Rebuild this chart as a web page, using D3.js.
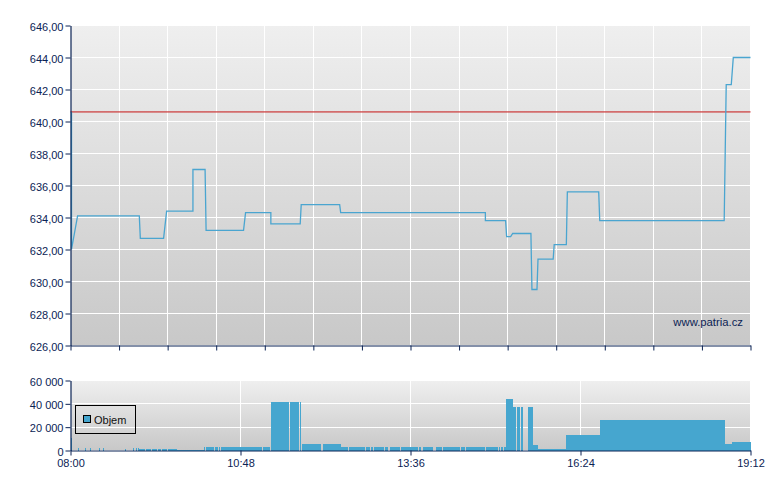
<!DOCTYPE html>
<html><head><meta charset="utf-8">
<script src="https://cdn.jsdelivr.net/npm/d3@7"></script>
<style>
body{margin:0;background:#fff}
svg{display:block;font-family:"Liberation Sans",Arial,sans-serif}
</style>
</head><body>
<svg id="c" width="780" height="490"></svg>
<script>
// ---------- DATA ----------
const priceTimes = ["08:01","08:01","08:07","09:08","09:09","09:32","09:35","10:01","10:01","10:13","10:14","10:51","10:53","11:18","11:18","11:47","11:48","12:26","12:27","14:50","14:50","15:10","15:11","15:15","15:17","15:35","15:36","15:41","15:42","15:57","15:58","16:10","16:11","16:42","16:43","18:46","18:48","18:53","18:55","19:12"];
const priceValues = [640.6,632.0,634.1,634.1,632.7,632.7,634.4,634.4,637.0,637.0,633.2,633.2,634.3,634.3,633.6,633.6,634.8,634.8,634.3,634.3,633.8,633.8,632.8,632.8,633.0,633.0,629.5,629.5,631.4,631.4,632.3,632.3,635.6,635.6,633.8,633.8,642.3,642.3,644.0,644.0];
const previousClose = 640.6;
const priceTicks = [626,628,630,632,634,636,638,640,642,644,646];

const volStart = ["08:00","08:07","08:14","08:19","08:28","08:32","08:54","09:02","09:05","09:07","09:08","09:15","09:21","09:26","09:30","09:36","09:45","10:12","10:14","10:23","10:27","10:29","11:10","11:18","11:37","11:47","11:49","12:10","12:27","12:35","12:52","12:57","13:00","13:11","13:16","13:27","13:44","13:48","14:01","14:08","14:26","14:31","14:51","15:03","15:05","15:08","15:10","15:17","15:21","15:25","15:32","15:37","15:42","16:10","16:43","18:47","18:54"];
const volEnd   = ["08:01","08:08","08:15","08:20","08:29","08:33","08:55","09:03","09:06","09:08","09:14","09:20","09:25","09:29","09:35","09:45","10:12","10:13","10:22","10:26","10:28","11:09","11:17","11:36","11:46","11:48","12:08","12:27","12:34","12:51","12:56","12:59","13:10","13:14","13:26","13:43","13:46","13:58","14:07","14:25","14:30","14:50","15:02","15:04","15:07","15:10","15:17","15:20","15:24","15:27","15:37","15:42","16:10","16:43","18:47","18:54","19:12"];
const volValues = [10500,1800,1800,1800,1800,1800,1500,2000,2000,1800,900,900,900,900,900,900,600,3400,3400,3400,3400,3400,3400,41400,41400,41400,6000,6000,3400,3400,3400,3400,3400,3400,3400,3400,3400,3400,3400,3400,3400,3400,3400,3400,3400,3400,44500,37700,37700,37700,37700,4300,900,13000,26500,5400,7700];
const volTicks = [0,20000,40000,60000];

const timeLabels = ["08:00","10:48","13:36","16:24","19:12"];
const gridStepMinutes = 48;
const legendLabel = "Objem";
const watermark = "www.patria.cz";

// ---------- STYLE ----------
const navy = "#0b2354";
const lineColor = "#4aa5d0";
const barColor = "#46a6cf";

// ---------- SCALES ----------
const parse = d3.timeParse("%H:%M");
const t0 = parse(timeLabels[0]), t1 = parse(timeLabels[timeLabels.length-1]);
const x = d3.scaleTime().domain([t0, t1]).range([70.5, 750.5]);
const y = d3.scaleLinear().domain([626, 646]).range([345.5, 25.5]);
const yv = d3.scaleLinear().domain([0, 60000]).range([450.5, 380.5]);

const loc = d3.formatLocale({decimal:",", thousands:" ", grouping:[3], currency:["",""]});
const fPrice = loc.format(",.2f");
const fVol = loc.format(",d");

const gridTimes = d3.range(0, Math.round((t1 - t0)/60000) + 1, gridStepMinutes).map(m => d3.timeMinute.offset(t0, m));

const svg = d3.select("#c");
const defs = svg.append("defs");
const grad = defs.append("linearGradient").attr("id","bg").attr("x1",0).attr("y1",0).attr("x2",0).attr("y2",1);
grad.append("stop").attr("offset","0%").attr("stop-color","#efefef");
grad.append("stop").attr("offset","100%").attr("stop-color","#c8c8c8");

const px = v => Math.round(v - 0.5) + 0.5;

// ---------- PRICE PANEL ----------
const gTop = svg.append("g");
gTop.append("rect").attr("x", x.range()[0]).attr("y", y.range()[1])
  .attr("width", x.range()[1]-x.range()[0]).attr("height", y.range()[0]-y.range()[1]).attr("fill","url(#bg)");
gTop.append("g").selectAll("line").data(priceTicks).join("line")
  .attr("x1", x.range()[0]).attr("x2", x.range()[1]).attr("y1", d=>px(y(d))).attr("y2", d=>px(y(d)))
  .attr("stroke","#fff").attr("stroke-width",1);
gTop.append("g").selectAll("line").data(gridTimes).join("line")
  .attr("x1", d=>px(x(d))).attr("x2", d=>px(x(d))).attr("y1", y.range()[0]).attr("y2", y.range()[1])
  .attr("stroke","#fff").attr("stroke-width",1);

gTop.append("line").attr("x1", x.range()[0]).attr("x2", x.range()[1])
  .attr("y1", y(previousClose)).attr("y2", y(previousClose))
  .attr("stroke","#cc3b3b").attr("stroke-opacity",0.7).attr("stroke-width",1.6);

const pts = priceTimes.map((t,i)=>({t:parse(t), v:priceValues[i]}));
gTop.append("path").datum(pts)
  .attr("d", d3.line().x(d=>x(d.t)).y(d=>y(d.v)))
  .attr("fill","none").attr("stroke",lineColor).attr("stroke-width",1.3);

gTop.append("text").attr("x",743).attr("y",326).attr("text-anchor","end")
  .attr("font-size",11.3).attr("fill",navy).text(watermark);

const ay = gTop.append("g").attr("transform",`translate(${x.range()[0]},0)`)
  .call(d3.axisLeft(y).tickValues(priceTicks).tickSize(5).tickSizeOuter(0).tickPadding(2).tickFormat(fPrice));
const ax = gTop.append("g").attr("transform",`translate(0,${y.range()[0]})`)
  .call(d3.axisBottom(x).tickValues(gridTimes).tickSize(5).tickSizeOuter(0).tickFormat(""));

// ---------- VOLUME PANEL ----------
const gBot = svg.append("g");
gBot.append("rect").attr("x", x.range()[0]).attr("y", yv.range()[1])
  .attr("width", x.range()[1]-x.range()[0]).attr("height", yv.range()[0]-yv.range()[1]).attr("fill","url(#bg)");
gBot.append("g").selectAll("line").data(volTicks).join("line")
  .attr("x1", x.range()[0]).attr("x2", x.range()[1]).attr("y1", d=>px(yv(d))).attr("y2", d=>px(yv(d)))
  .attr("stroke","#fff").attr("stroke-width",1);
gBot.append("g").selectAll("line").data(timeLabels.map(parse)).join("line")
  .attr("x1", d=>px(x(d))).attr("x2", d=>px(x(d))).attr("y1", yv.range()[0]).attr("y2", yv.range()[1])
  .attr("stroke","#fff").attr("stroke-width",1);

const bars = volStart.map((s,i)=>({s:parse(s), e:parse(volEnd[i]), v:volValues[i]}));
gBot.append("g").selectAll("rect").data(bars).join("rect")
  .attr("x", d=>x(d.s)).attr("width", d=>Math.max(1, x(d.e)-x(d.s)))
  .attr("y", d=>yv(d.v)).attr("height", d=>yv(0)-yv(d.v))
  .attr("fill", barColor).attr("shape-rendering","crispEdges");

const leg = gBot.append("g");
leg.append("rect").attr("x",75.5).attr("y",405.5).attr("width",60).attr("height",28)
  .attr("fill","none").attr("stroke","#000").attr("stroke-width",1);
leg.append("rect").attr("x",83.5).attr("y",415.5).attr("width",7).attr("height",7)
  .attr("fill",barColor).attr("stroke","#000").attr("stroke-width",1);
leg.append("text").attr("x",94).attr("y",424).attr("font-size",11).attr("fill","#111").text(legendLabel);

const avy = gBot.append("g").attr("transform",`translate(${x.range()[0]},0)`)
  .call(d3.axisLeft(yv).tickValues(volTicks).tickSize(5).tickSizeOuter(0).tickPadding(2).tickFormat(fVol));
const avx = gBot.append("g").attr("transform",`translate(0,${yv.range()[0]})`)
  .call(d3.axisBottom(x).tickValues(timeLabels.map(parse)).tickSize(5).tickSizeOuter(0).tickPadding(4).tickFormat(d3.timeFormat("%H:%M")));

// axis styling
svg.selectAll(".domain").attr("stroke",navy).attr("stroke-width",1.2);
svg.selectAll(".tick line").attr("stroke",navy);
svg.selectAll(".tick text").attr("fill",navy).attr("font-size",11).attr("font-family",'"Liberation Sans",Arial,sans-serif');
ay.selectAll(".tick text").attr("dy","0.42em");
avy.selectAll(".tick text").attr("dy","0.42em");
</script>
</body></html>
